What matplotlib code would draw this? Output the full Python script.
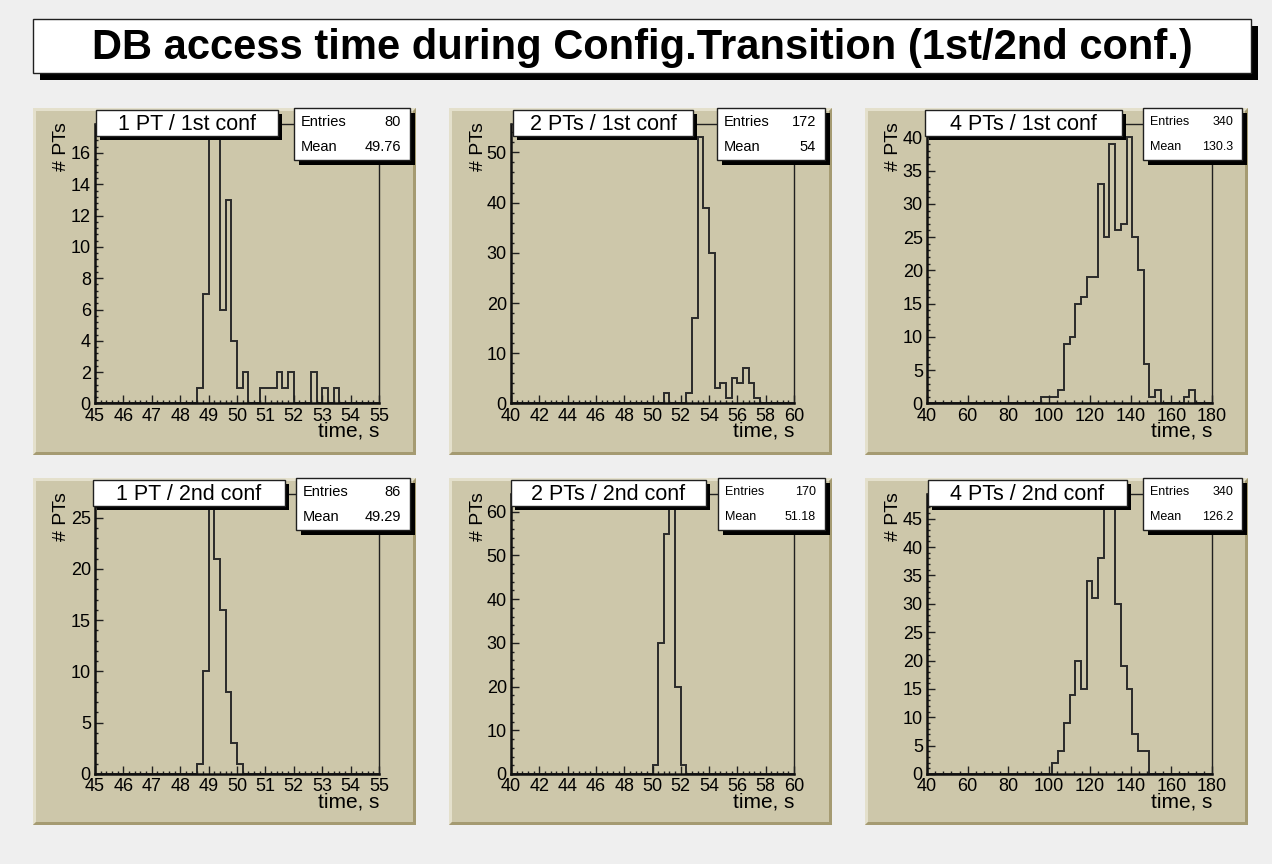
import matplotlib.pyplot as plt
import numpy as np
from matplotlib.patches import Rectangle, Polygon
from matplotlib.ticker import MultipleLocator

plt.rcParams["font.family"] = ["Liberation Sans", "DejaVu Sans"]

W, H = 1272, 864

# histogram contents (50 bins each), listed from the first filled bin
titles = ["1 PT / 1st conf", "2 PTs / 1st conf", "4 PTs / 1st conf",
          "1 PT / 2nd conf", "2 PTs / 2nd conf", "4 PTs / 2nd conf"]
x_ranges = [(45, 55), (40, 60), (40, 180), (45, 55), (40, 60), (40, 180)]
n_bins = 50
first_bin = [18, 27, 20, 18, 25, 22]
counts_1pt_1st = [1, 7, 17, 17, 6, 13, 4, 1, 2, 0, 0, 1, 1, 1, 2, 1, 2,
                  0, 0, 0, 2, 0, 1, 0, 1]
counts_2pt_1st = [2, 0, 0, 0, 2, 17, 53, 39, 30, 3, 4, 1, 5, 4, 7, 4, 1]
counts_4pt_1st = [1, 1, 1, 2, 9, 10, 15, 16, 19, 19, 33, 25, 39, 26, 27, 40,
                  25, 20, 6, 1, 2, 0, 0, 0, 0, 1, 2]
counts_1pt_2nd = [1, 10, 26, 21, 16, 8, 3, 1]
counts_2pt_2nd = [2, 30, 55, 61, 20, 2]
counts_4pt_2nd = [2, 4, 9, 14, 20, 15, 34, 31, 38, 47, 47, 30, 19, 15, 7, 4, 4]
means = ["49.76", "54", "130.3", "49.29", "51.18", "126.2"]

all_counts = [counts_1pt_1st, counts_2pt_1st, counts_4pt_1st,
              counts_1pt_2nd, counts_2pt_2nd, counts_4pt_2nd]

# tick spacing (major, minor) for x and y
x_steps = [(1, 0.2), (2, 0.4), (20, 4), (1, 0.2), (2, 0.4), (20, 4)]
y_steps = [(2, 0.4), (10, 2), (5, 1), (5, 1), (10, 2), (5, 1)]

# pixel layout
pad_x = [33, 449, 865]
pad_y = [108, 478]
pad_w, pad_h = 383, 347
frame_x = [(95, 379), (511, 794), (927, 1212)]
frame_y = [(124, 403.5), (494, 774)]
title_box_x = [(96, 278), (513, 693), (925, 1122),
               (93, 285), (511, 706), (928, 1127)]
stats_box_x = [(294, 410), (717, 825), (1143, 1242),
               (296, 410), (718, 825), (1143, 1242)]
stats_fs = [10.5, 10.5, 9, 10.5, 9, 9]

PAD = "#cdc7aa"
BG = "#efefef"

fig = plt.figure(figsize=(W / 100, H / 100), dpi=100, facecolor=BG)


def fx(x):
    return x / W


def fy(y):
    return 1 - y / H


def add_rect(x0, y0, x1, y1, **kw):
    r = Rectangle((fx(x0), fy(y1)), (x1 - x0) / W, (y1 - y0) / H,
                  transform=fig.transFigure, **kw)
    fig.patches.append(r)


def add_poly(pts, **kw):
    p = Polygon([(fx(x), fy(y)) for x, y in pts], closed=True,
                transform=fig.transFigure, **kw)
    fig.patches.append(p)


def shadow_box(x0, y0, x1, y1, off, lw=1.0):
    add_rect(x0 + off, y0 + off, x1 + off, y1 + off,
             facecolor="black", edgecolor="none", zorder=5)
    add_rect(x0, y0, x1, y1, facecolor="white", edgecolor="#202020",
             lw=lw, zorder=6)


def text_px(x, y, s, **kw):
    kw.setdefault("zorder", 7)
    fig.text(fx(x), fy(y), s, **kw)


# main title
shadow_box(33, 19, 1251, 73, 7)
text_px(642, 58.5, "DB access time during Config.Transition (1st/2nd conf.)",
        ha="center", va="baseline", fontsize=30, fontweight="bold")

for i in range(6):
    row, col = divmod(i, 3)
    px0, py0 = pad_x[col], pad_y[row]
    px1, py1 = px0 + pad_w, py0 + pad_h

    # pad with bevelled border
    add_rect(px0, py0, px1, py1, facecolor=PAD, edgecolor="none", zorder=-3)
    b = 3
    add_poly([(px0, py0), (px1, py0), (px1 - b, py0 + b), (px0 + b, py0 + b),
              (px0 + b, py1 - b), (px0, py1)],
             facecolor="#e4e0cc", edgecolor="none", zorder=-2)
    add_poly([(px1, py0), (px1, py1), (px0, py1), (px0 + b, py1 - b),
              (px1 - b, py1 - b), (px1 - b, py0 + b)],
             facecolor="#a59b72", edgecolor="none", zorder=-2)

    fx0, fx1 = frame_x[col]
    fy0, fy1 = frame_y[row]
    ax = fig.add_axes([fx(fx0), fy(fy1), (fx1 - fx0) / W, (fy1 - fy0) / H])
    ax.set_facecolor("none")

    lo, hi = x_ranges[i]
    width = (hi - lo) / n_bins
    counts = np.zeros(n_bins)
    c = all_counts[i]
    counts[first_bin[i]:first_bin[i] + len(c)] = c
    edges = lo + width * np.arange(n_bins + 1)
    ax.stairs(counts, edges, color="#2a2a2a", lw=1.4)

    ax.set_xlim(lo, hi)
    ax.set_ylim(0, counts.max() * 1.05)
    ax.xaxis.set_major_locator(MultipleLocator(x_steps[i][0]))
    ax.xaxis.set_minor_locator(MultipleLocator(x_steps[i][1]))
    ax.yaxis.set_major_locator(MultipleLocator(y_steps[i][0]))
    ax.yaxis.set_minor_locator(MultipleLocator(y_steps[i][1]))
    ax.tick_params(which="both", direction="in", top=False, right=False,
                   width=1, color="#202020")
    ax.tick_params(which="major", length=5.5, labelsize=13, pad=3)
    ax.tick_params(which="minor", length=2.5)
    for side in ("left", "bottom"):
        ax.spines[side].set_linewidth(1.8)
        ax.spines[side].set_color("#101010")
    for side in ("top", "right"):
        ax.spines[side].set_linewidth(1.0)
        ax.spines[side].set_color("#202020")

    # axis titles
    text_px(fx0 - 33, fy0 - 2, "# PTs", rotation=90, ha="center", va="top",
            fontsize=14)
    text_px(fx1, fy1 + 18, "time, s", ha="right", va="top", fontsize=15)

    # histogram title box
    tx0, tx1 = title_box_x[i]
    shadow_box(tx0, py0 + 2, tx1, py0 + 28, 4)
    text_px((tx0 + tx1) / 2, py0 + 22, titles[i], ha="center",
            va="baseline", fontsize=15.5)

    # statistics box
    sx0, sx1 = stats_box_x[i]
    shadow_box(sx0, py0, sx1, py0 + 52, 5)
    fs = stats_fs[i]
    text_px(sx0 + 7, py0 + 14, "Entries", ha="left", va="center", fontsize=fs)
    text_px(sx1 - 9, py0 + 14, f"{int(counts.sum())}", ha="right",
            va="center", fontsize=fs)
    text_px(sx0 + 7, py0 + 39, "Mean", ha="left", va="center", fontsize=fs)
    text_px(sx1 - 9, py0 + 39, means[i], ha="right", va="center", fontsize=fs)

fig.savefig("out.png", dpi=100, facecolor=BG)
